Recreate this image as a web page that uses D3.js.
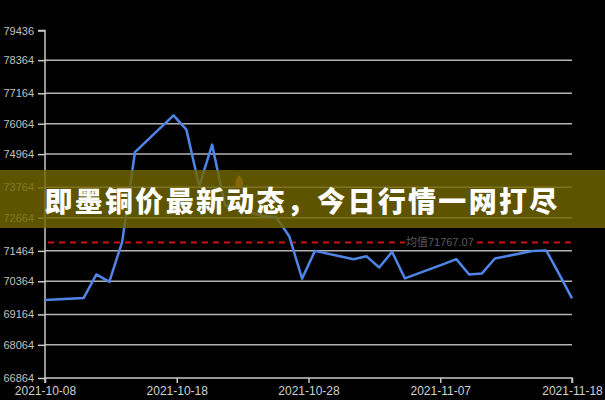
<!DOCTYPE html>
<html><head><meta charset="utf-8">
<script src="https://cdn.jsdelivr.net/npm/d3@7"></script>
<style>
html,body{margin:0;padding:0;background:#000;}
svg{display:block;}
</style></head>
<body>
<svg id="c" width="605" height="400"></svg>
<script>
const dates = ["2021-10-08","2021-10-11","2021-10-12","2021-10-13","2021-10-14","2021-10-15",
"2021-10-18","2021-10-19","2021-10-20","2021-10-21","2021-10-22",
"2021-10-25","2021-10-26","2021-10-27","2021-10-28","2021-10-29",
"2021-11-01","2021-11-02","2021-11-03","2021-11-04","2021-11-05",
"2021-11-08","2021-11-09","2021-11-10","2021-11-11","2021-11-12",
"2021-11-15","2021-11-16","2021-11-17","2021-11-18"];
const prices = [69682,69754,70610,70343,71777,75039,
76365,75849,73800,75307,73114,
72717,72680,71994,70459,71463,
71163,71272,70863,71427,70466,
70983,71163,70610,70647,71188,
71463,71477,70621,69743];
const yTicks = [79436,78364,77164,76064,74964,73764,72664,71464,70364,69164,68064,66864];
const xTickLabels = ["2021-10-08","2021-10-18","2021-10-28","2021-11-07","2021-11-18"];
const avgValue = 71767.07;
const avgLabel = "均值71767.07";
const title = "即墨铜价最新动态，今日行情一网打尽";

const parse = d3.timeParse("%Y-%m-%d");
const svg = d3.select("#c");
const L = 45, R = 572, T = 30.5, B = 378;
const t0 = parse(dates[0]), t1 = parse(dates[dates.length-1]);
const x = d3.scaleTime().domain([t0, t1]).range([L, R]);
const y = d3.scaleLinear().domain([66864, 79436]).range([B, T]);

// grid
svg.append("g").selectAll("line").data(yTicks.filter(v => v !== 79436 && v !== 66864)).join("line")
  .attr("x1", L).attr("x2", R).attr("y1", d => y(d)).attr("y2", d => y(d))
  .attr("stroke", "#b4b4b4").attr("stroke-width", 1.5);

// y axis
const yAxis = d3.axisLeft(y).tickValues(yTicks).tickSize(7).tickPadding(4).tickFormat(d => d);
const gy = svg.append("g").attr("transform", `translate(${L},0)`).call(yAxis);
gy.select(".domain").attr("stroke", "#c8c8c8").attr("stroke-width", 1.5).attr("d", `M-7,${T}H0V${B}`);
gy.selectAll(".tick line").attr("stroke", "#c8c8c8").attr("stroke-width", 1.5);
gy.selectAll(".tick text").attr("fill", "#c0c0c0").attr("font-size", "11px")
  .attr("font-family", "'Liberation Sans', Arial, sans-serif");

// x axis: evenly split ticks
const span = t1 - t0;
const xTickTimes = xTickLabels.map((s, i) => new Date(+t0 + span * i / (xTickLabels.length - 1)));
const xAxis = d3.axisBottom(x).tickValues(xTickTimes).tickSize(5).tickPadding(3)
  .tickFormat((d, i) => xTickLabels[i]);
const gx = svg.append("g").attr("transform", `translate(0,${B})`).call(xAxis);
gx.select(".domain").attr("stroke", "#c8c8c8").attr("stroke-width", 1.5).attr("d", `M${L},5V0H${R}V5`);
gx.selectAll(".tick line").attr("stroke", "#c8c8c8").attr("stroke-width", 1.5);
gx.selectAll(".tick text").attr("fill", "#d0d0d0").attr("font-size", "12px")
  .attr("font-family", "'Liberation Sans', Arial, sans-serif");

// average line
svg.append("line").attr("x1", L + 3).attr("x2", R).attr("y1", y(avgValue)).attr("y2", y(avgValue))
  .attr("stroke", "#d01010").attr("stroke-width", 2).attr("stroke-dasharray", "6,5");
const lx = x(parse("2021-11-05")) + 1;
const lg = svg.append("g");
const lbl = lg.append("text").attr("x", lx).attr("y", y(avgValue)).attr("dy", "0.35em")
  .attr("font-size", "11px").attr("font-family", "'Liberation Sans','Noto Sans CJK SC',sans-serif")
  .attr("fill", "#5a5a5a").text(avgLabel);
const bb = lbl.node().getBBox();
lg.insert("rect", "text").attr("x", bb.x - 1).attr("y", bb.y + 1).attr("width", bb.width + 2).attr("height", bb.height - 2).attr("fill", "#000");

// price line
const line = d3.line().x((d, i) => x(parse(dates[i]))).y(d => y(d));
svg.append("path").datum(prices).attr("d", line).attr("fill", "none")
  .attr("stroke", "#5085e8").attr("stroke-width", 2.5).attr("stroke-linejoin", "round");

// small orange marker
const mx = x(parse("2021-10-22")) + 14, my = 183;
svg.append("path").attr("d", `M${mx},${my-8} C${mx+6},${my-2} ${mx+5},${my+5} ${mx},${my+5} C${mx-5},${my+5} ${mx-5},${my-1} ${mx},${my-8}Z`)
  .attr("fill", "#e8681a");

// banner
svg.append("rect").attr("x", 0).attr("y", 170).attr("width", 605).attr("height", 58)
  .attr("fill", "rgb(115,103,0)").attr("fill-opacity", 0.82);
svg.append("text").attr("x", 302).attr("y", 200).attr("text-anchor", "middle").attr("dominant-baseline", "central")
  .attr("font-size", "28px").attr("font-weight", 900).attr("letter-spacing", "2.3px")
  .attr("font-family", "'Noto Sans CJK SC', sans-serif").attr("fill", "#fff").text(title);
</script>
</body></html>
